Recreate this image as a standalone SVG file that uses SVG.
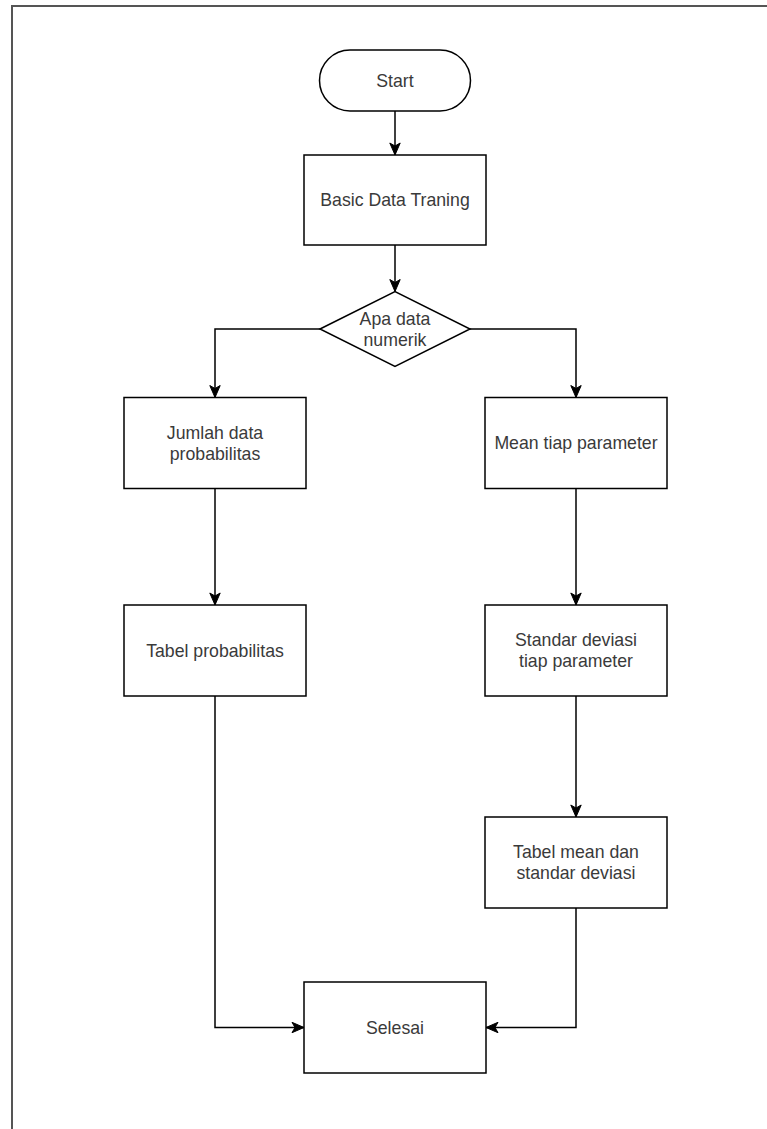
<svg xmlns="http://www.w3.org/2000/svg" width="767" height="1129" viewBox="0 0 767 1129">
  <style>
    .shape { fill: #ffffff; stroke: #000000; stroke-width: 1.5; }
    .edge { fill: none; stroke: #000000; stroke-width: 1.5; marker-end: url(#arrow); }
    .label { font-family: "Liberation Sans", Arial, sans-serif; font-size: 17.7px; fill: #3a3a3a; text-anchor: middle; dominant-baseline: central; }
    .frame { fill: none; stroke: #555555; stroke-width: 2; }
  </style>
  <defs>
    <marker id="arrow" markerUnits="userSpaceOnUse" markerWidth="14" markerHeight="14" viewBox="0 0 14 14" refX="13" refY="7" orient="auto">
      <path d="M1,1.8 L13,7 L1,12.2 L4,7 Z" fill="#000000" stroke="#000000" stroke-width="1"/>
    </marker>
  </defs>

  <rect width="767" height="1129" fill="#ffffff"/>
  <!-- page frame -->
  <path class="frame" d="M12,1129 V6 H767"/>

  <g id="connectors">
    <path class="edge" d="M395,111 V155"/>
    <path class="edge" d="M395,245 V291.5"/>
    <path class="edge" d="M320,329 H215 V397.5"/>
    <path class="edge" d="M470,329 H576 V397.5"/>
    <path class="edge" d="M215,488.5 V605"/>
    <path class="edge" d="M576,488.5 V605"/>
    <path class="edge" d="M576,696 V817"/>
    <path class="edge" d="M215,696 V1027.5 H304"/>
    <path class="edge" d="M576,908 V1027.5 H486"/>
  </g>

  <g id="start">
    <rect class="shape" x="319.5" y="50" width="151" height="61" rx="30.5" ry="30.5"/>
    <text class="label" x="395" y="80.5">Start</text>
  </g>

  <g id="basic-data-traning">
    <rect class="shape" x="304" y="155" width="182" height="90"/>
    <text class="label" x="395" y="200">Basic Data Traning</text>
  </g>

  <g id="apa-data-numerik">
    <polygon class="shape" points="320,329 395,291.5 470,329 395,366.5"/>
    <text class="label" x="395" y="318.5">Apa data</text>
    <text class="label" x="395" y="339.5">numerik</text>
  </g>

  <g id="jumlah-data-probabilitas">
    <rect class="shape" x="124" y="397.5" width="182" height="91"/>
    <text class="label" x="215" y="432.5">Jumlah data</text>
    <text class="label" x="215" y="453.5">probabilitas</text>
  </g>

  <g id="mean-tiap-parameter">
    <rect class="shape" x="485" y="397.5" width="182" height="91"/>
    <text class="label" x="576" y="443">Mean tiap parameter</text>
  </g>

  <g id="tabel-probabilitas">
    <rect class="shape" x="124" y="605" width="182" height="91"/>
    <text class="label" x="215" y="650.5">Tabel probabilitas</text>
  </g>

  <g id="standar-deviasi">
    <rect class="shape" x="485" y="605" width="182" height="91"/>
    <text class="label" x="576" y="640">Standar deviasi</text>
    <text class="label" x="576" y="661">tiap parameter</text>
  </g>

  <g id="tabel-mean-standar-deviasi">
    <rect class="shape" x="485" y="817" width="182" height="91"/>
    <text class="label" x="576" y="852">Tabel mean dan</text>
    <text class="label" x="576" y="873">standar deviasi</text>
  </g>

  <g id="selesai">
    <rect class="shape" x="304" y="982" width="182" height="91"/>
    <text class="label" x="395" y="1027.5">Selesai</text>
  </g>
</svg>
